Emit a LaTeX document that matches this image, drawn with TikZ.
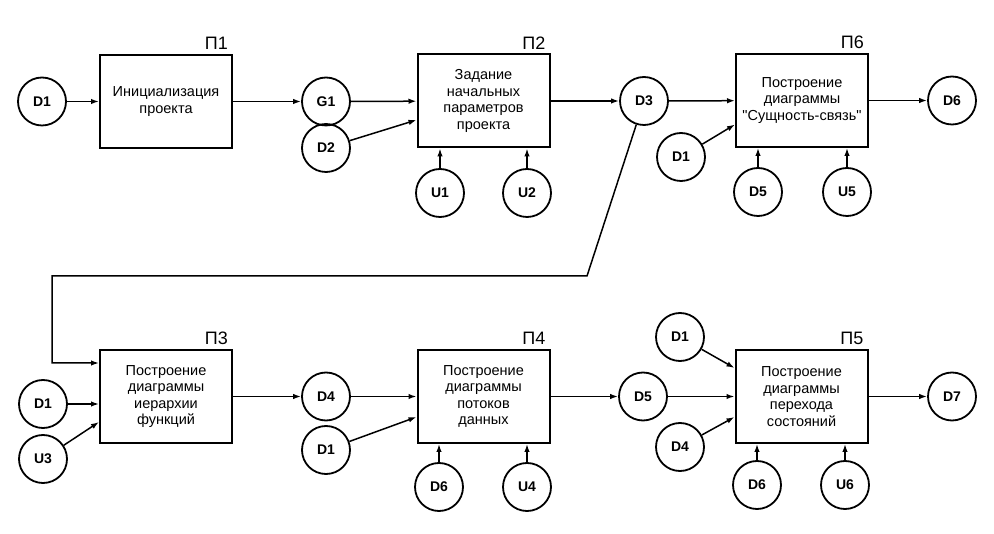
\documentclass[tikz,border=0pt]{standalone}
\usepackage{fontspec}
\setmainfont{Liberation Sans}[Ligatures=TeXOff]
\usetikzlibrary{arrows.meta,positioning}

\begin{document}
\begin{tikzpicture}[
  x=1pt, y=-1pt,
  proc/.style={rectangle, draw, line width=2pt, minimum width=132pt, minimum height=93pt, text width=128pt, inner sep=1pt, align=center, font=\fontsize{14.5}{16.5}\selectfont},
  dat/.style={circle, draw, line width=1.8pt, minimum size=48pt, inner sep=0pt, font=\fontsize{14}{16}\selectfont\bfseries},
  num/.style={inner sep=1pt, font=\fontsize{18}{20}\selectfont},
  arr/.style={-{Latex[length=8pt,width=5.5pt]}, line width=1.5pt}
]
\useasboundingbox (0,0) rectangle (994,534);

% верхний ряд
\node[proc] (p1) at (166,101.5) {Инициализация\\проекта};
\node[proc] (p2) at (483.5,101) {Задание\\начальных\\параметров\\проекта};
\node[proc] (p6) at (802,100.5) {Построение\\диаграммы\\"Сущность-связь"};
\node[num, above left=3pt and 4pt of p1.north east] (n1) {П1};
\node[num, above left=3pt and 4pt of p2.north east] (n2) {П2};
\node[num, above left=3pt and 4pt of p6.north east] (n6) {П6};

\node[dat] (d1a) at (42,101.5) {D1};
\node[dat] (g1) at (326,101.5) {G1};
\node[dat] (d2) at (326,148) {D2};
\node[dat] (u1) at (440,193) {U1};
\node[dat] (u2) at (527,193) {U2};
\node[dat] (d3) at (644,101) {D3};
\node[dat] (d1b) at (681,157) {D1};
\node[dat] (d5a) at (758,192) {D5};
\node[dat] (u5) at (847,192) {U5};
\node[dat] (d6a) at (952,100.5) {D6};

% нижний ряд
\node[proc] (p3) at (166,396.5) {Построение\\диаграммы\\иерархии\\функций};
\node[proc] (p4) at (483.5,396.5) {Построение\\диаграммы\\потоков\\данных};
\node[proc] (p5) at (801.5,396.5) {Построение\\диаграммы\\перехода\\состояний};
\node[num, above left=3pt and 4pt of p3.north east] (n3) {П3};
\node[num, above left=3pt and 4pt of p4.north east] (n4) {П4};
\node[num, above left=3pt and 4pt of p5.north east] (n5) {П5};

\node[dat] (d1c) at (43,404) {D1};
\node[dat] (u3) at (43,459) {U3};
\node[dat] (d4a) at (326,396.5) {D4};
\node[dat] (d1d) at (326,450) {D1};
\node[dat] (d6b) at (439,487) {D6};
\node[dat] (u4) at (527,487) {U4};
\node[dat] (d5b) at (643,396.5) {D5};
\node[dat] (d1e) at (680,337) {D1};
\node[dat] (d4b) at (680,447) {D4};
\node[dat] (d6c) at (757,485) {D6};
\node[dat] (u6) at (845,485) {U6};
\node[dat] (d7) at (952,396.5) {D7};

\coordinate (fb1) at (587,276);
\coordinate (fb2) at (52,276);

\draw[arr] (d1a) -- (p1);
\draw[arr] (p1) -- (g1);
\draw[arr] (g1) -- (p2);
\draw[arr] (d2) -- ([yshift=-19pt]p2.west);
\draw[arr] (u1) -- (u1 |- p2.south);
\draw[arr] (u2) -- (u2 |- p2.south);
\draw[arr] (p2) -- (d3);
\draw[arr] (d3) -- (p6);
\draw[arr] (d1b) -- ([yshift=-24pt]p6.west);
\draw[arr] (d5a) -- (d5a |- p6.south);
\draw[arr] (u5) -- (u5 |- p6.south);
\draw[arr] (p6) -- (d6a);

\draw[arr] (d3) -- (fb1) -- (fb2) |- ([yshift=33.5pt]p3.west);
\draw[arr] (d1c) -- (d1c -| p3.west);
\draw[arr] (u3) -- ([yshift=-25.5pt]p3.west);
\draw[arr] (p3) -- (d4a);
\draw[arr] (d4a) -- (p4);
\draw[arr] (d1d) -- ([yshift=-20.5pt]p4.west);
\draw[arr] (d6b) -- (d6b |- p4.south);
\draw[arr] (u4) -- (u4 |- p4.south);
\draw[arr] (p4) -- (d5b);
\draw[arr] (d5b) -- (p5);
\draw[arr] (d1e) -- ([yshift=28.5pt]p5.west);
\draw[arr] (d4b) -- ([yshift=-20.5pt]p5.west);
\draw[arr] (d6c) -- (d6c |- p5.south);
\draw[arr] (u6) -- (u6 |- p5.south);
\draw[arr] (p5) -- (d7);
\end{tikzpicture}
\end{document}
